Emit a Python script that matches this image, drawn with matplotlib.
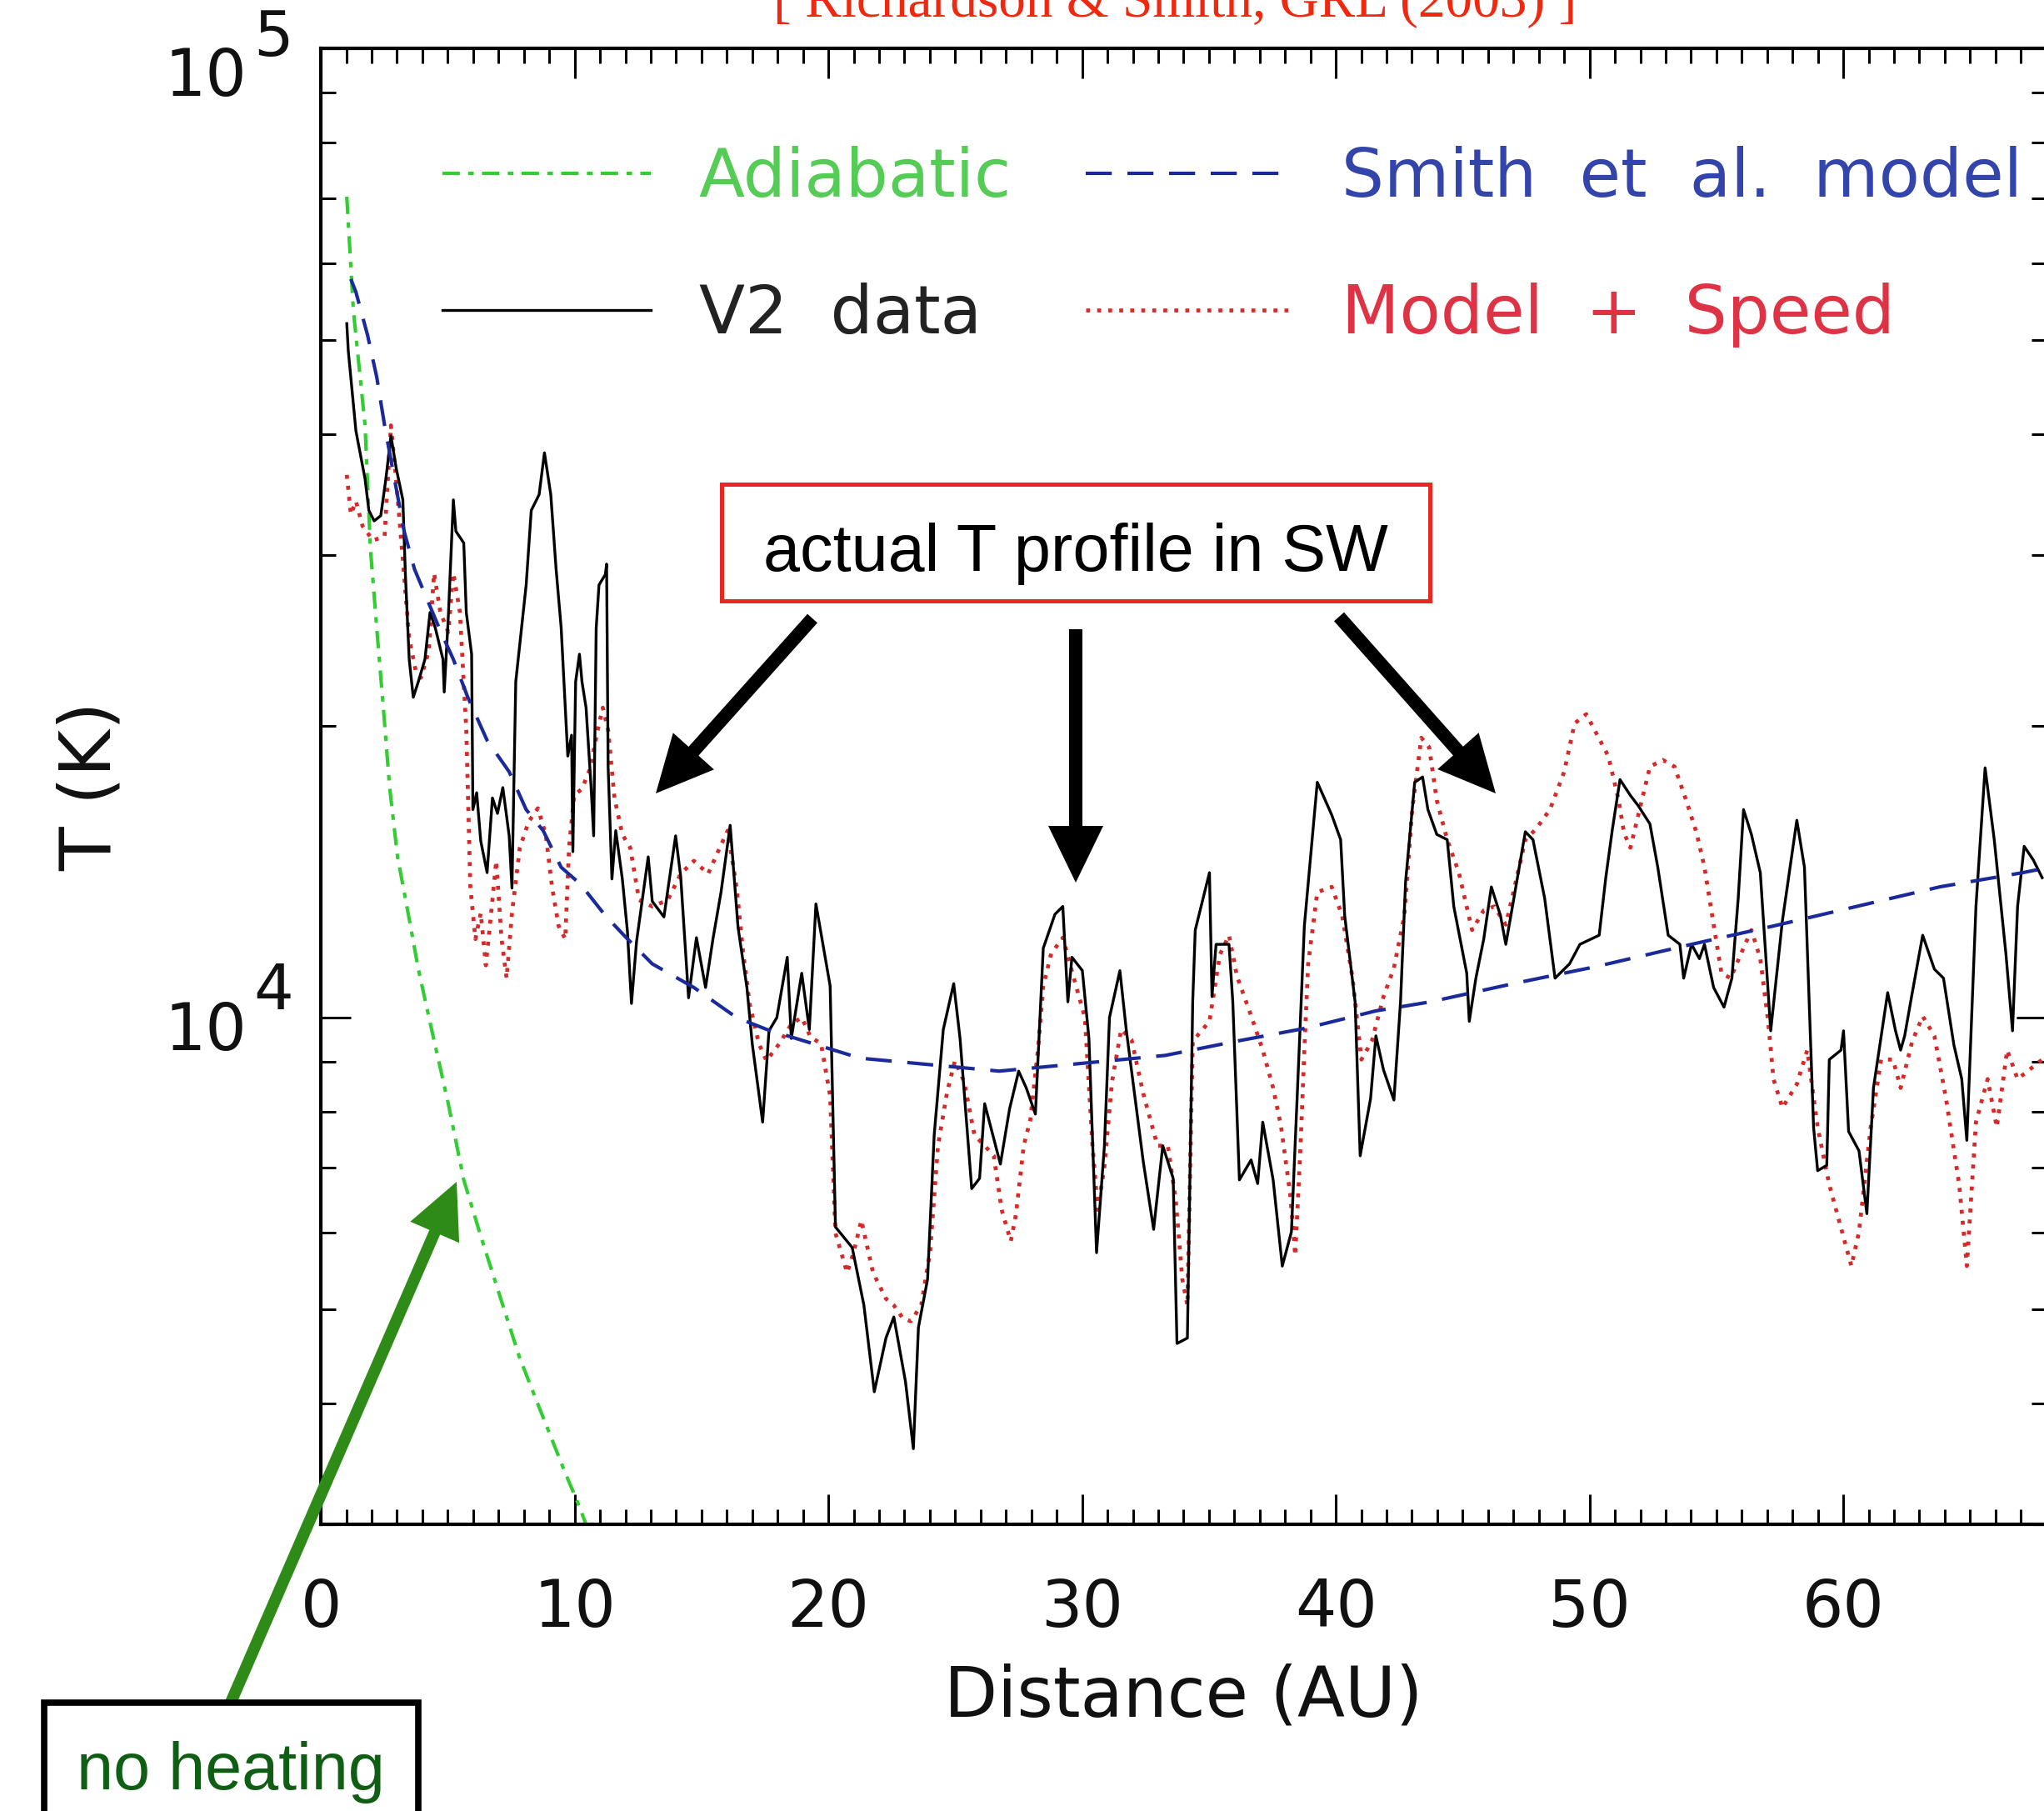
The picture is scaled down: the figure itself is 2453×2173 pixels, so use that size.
import matplotlib
matplotlib.use("Agg")
import matplotlib.pyplot as plt
from matplotlib.patches import Rectangle, FancyArrow
from matplotlib.ticker import MultipleLocator, LogLocator, NullFormatter

# distance (AU), temperature (K)
v2_data = [
    (1.02, 52000), (1.08, 48700), (1.38, 40300), (1.74, 35950), (1.89, 33360), (2.10, 32540),
    (2.36, 32950), (2.56, 35950), (2.76, 39830), (2.97, 36860), (3.23, 34210), (3.33, 28650),
    (3.48, 23420), (3.64, 21400), (3.84, 22210), (4.10, 23420), (4.30, 26180), (4.51, 25230),
    (4.81, 23420), (4.86, 21670), (5.02, 25860), (5.22, 34210), (5.32, 31750), (5.63, 30880),
    (5.73, 26180), (5.94, 23710), (5.99, 16390), (6.14, 17060), (6.30, 15210), (6.55, 14110),
    (6.76, 16850), (6.96, 16240), (7.17, 17270), (7.42, 15400), (7.53, 13600), (7.68, 22210),
    (8.09, 27950), (8.29, 33360), (8.60, 34640), (8.81, 38260), (9.06, 34640), (9.27, 29010),
    (9.47, 25230), (9.73, 18610), (9.88, 19560), (9.93, 14830), (10.04, 22210), (10.19, 23710),
    (10.29, 22210), (10.45, 20880), (10.65, 17270), (10.75, 15400), (10.85, 25230), (10.96, 27950),
    (11.21, 28650), (11.26, 29370), (11.32, 18150), (11.47, 13900), (11.62, 15590), (11.88, 13900),
    (12.08, 12280), (12.24, 10340), (12.44, 11980), (12.90, 14650), (13.06, 13180), (13.52, 12700),
    (13.98, 15400), (14.18, 13980), (14.49, 10480), (14.80, 12090), (15.16, 10740), (15.46, 12090),
    (15.77, 13470), (16.13, 15790), (16.44, 12390), (16.79, 10740), (17.00, 9400), (17.41, 7800),
    (17.66, 9690), (17.97, 10000), (18.38, 11540), (18.54, 9515), (18.95, 11110), (19.25, 9720),
    (19.51, 13100), (20.07, 10780), (20.28, 6080), (20.94, 5790), (21.40, 5050), (21.81, 4110),
    (22.27, 4670), (22.58, 4910), (23.04, 4210), (23.35, 3590), (23.55, 4790), (23.91, 5370),
    (24.17, 7560), (24.53, 9720), (24.94, 10840), (25.19, 9515), (25.65, 6660), (25.96, 6825),
    (26.16, 8150), (26.78, 7060), (27.14, 8045), (27.50, 8805), (27.80, 8460), (28.16, 7950),
    (28.47, 11790), (28.93, 12780), (29.24, 13020), (29.44, 10380), (29.60, 11540), (30.01, 11180),
    (30.27, 9515), (30.57, 5720), (30.88, 7375), (31.08, 10000), (31.49, 11180), (31.74, 9720),
    (32.41, 7105), (32.82, 6045), (33.18, 7375), (33.59, 6825), (33.74, 4610), (34.15, 4670),
    (34.36, 10380), (34.46, 12310), (35.02, 14110), (35.12, 10510), (35.28, 11900), (35.79, 11900),
    (35.94, 10380), (36.20, 6800), (36.66, 7130), (36.92, 6740), (37.12, 7800), (37.53, 6800),
    (37.89, 5540), (38.25, 6010), (38.50, 8560), (38.76, 12430), (39.27, 17490), (39.84, 16180),
    (40.19, 15260), (40.35, 12740), (40.76, 10380), (40.96, 7200), (41.37, 8250), (41.58, 9575),
    (41.88, 8830), (42.29, 8220), (42.55, 10380), (42.75, 13810), (43.11, 17490), (43.42, 17710),
    (43.63, 16390), (43.98, 15450), (44.39, 15260), (44.65, 13020), (45.16, 11110), (45.26, 9910),
    (45.52, 10980), (45.83, 12050), (46.13, 13640), (46.49, 12740), (46.70, 11900), (46.90, 12740),
    (47.47, 15550), (47.77, 15260), (48.23, 13280), (48.64, 10980), (49.21, 11360), (49.62, 11900),
    (50.38, 12160), (50.64, 13940), (50.90, 15640), (51.20, 17600), (51.61, 16950), (51.92, 16540),
    (52.38, 15840), (52.69, 14290), (53.10, 12160), (53.56, 11900), (53.71, 10980), (54.02, 11900),
    (54.33, 11500), (54.53, 11900), (54.89, 10740), (55.30, 10250), (55.61, 10980), (55.86, 13280),
    (56.07, 16390), (56.38, 15450), (56.73, 14110), (57.14, 9690), (57.60, 12580), (58.17, 15980),
    (58.47, 14290), (58.83, 7705), (58.99, 6950), (59.35, 7040), (59.45, 9050), (59.91, 9255),
    (60.01, 9690), (60.21, 7630), (60.62, 7285), (60.93, 6275), (61.19, 8460), (61.75, 10610),
    (62.06, 9690), (62.26, 9255), (62.42, 9575), (62.72, 10610), (63.13, 12160), (63.59, 11220),
    (63.95, 10980), (64.36, 9370), (64.67, 8640), (64.87, 7470), (65.23, 13020), (65.59, 18100),
    (65.95, 15260), (66.41, 11640), (66.67, 9690), (66.87, 13020), (67.13, 15020), (67.49, 14540),
    (67.84, 13940),
]

model_speed = [
    (1.02, 36300), (1.18, 33050), (1.38, 34100), (1.64, 32150), (2.05, 31070), (2.51, 31360),
    (2.76, 40830), (2.97, 35730), (3.23, 29650), (3.48, 24610), (3.74, 22770), (3.94, 22420),
    (4.25, 23860), (4.46, 28740), (4.71, 26180), (5.02, 24990), (5.22, 28740), (5.48, 26180),
    (5.73, 19800), (5.89, 13640), (6.09, 12050), (6.30, 12820), (6.50, 11320), (6.71, 12820),
    (6.91, 14510), (7.12, 12050), (7.32, 10980), (7.53, 12820), (7.84, 14970), (8.19, 15930),
    (8.55, 16440), (8.86, 15450), (9.11, 13640), (9.37, 12430), (9.63, 12050), (9.78, 14970),
    (9.98, 16950), (10.29, 17220), (10.60, 18040), (10.91, 19800), (11.11, 20880), (11.32, 19800),
    (11.57, 16850), (11.88, 15450), (12.19, 14970), (12.54, 13220), (13.06, 13020), (13.67, 13220),
    (14.18, 14070), (14.70, 14510), (15.26, 14070), (15.72, 14970), (16.03, 15590), (16.38, 13640),
    (16.64, 11680), (16.90, 10320), (17.26, 9400), (17.56, 9025), (18.07, 9400), (18.54, 9846),
    (18.95, 10000), (19.30, 9545), (19.71, 9400), (20.07, 8300), (20.28, 5990), (20.74, 5455),
    (20.99, 5716), (21.30, 6178), (21.76, 5455), (22.27, 5127), (22.58, 5048), (22.94, 4893),
    (23.25, 4860), (23.66, 5048), (24.01, 5733), (24.32, 7375), (24.68, 8378), (24.99, 9025),
    (25.35, 8587), (25.76, 7560), (26.16, 7375), (26.52, 7200), (26.83, 6333), (27.19, 5878),
    (27.39, 6255), (27.70, 7375), (27.96, 7846), (28.26, 9255), (28.47, 10780), (28.78, 11640),
    (29.24, 12090), (29.65, 11040), (30.11, 10000), (30.41, 7375), (30.62, 6333), (30.88, 7020),
    (31.18, 8587), (31.54, 9724), (31.95, 9485), (32.41, 8350), (32.97, 7375), (33.38, 7375),
    (33.69, 6490), (33.95, 5371), (34.15, 5048), (34.36, 9455), (35.02, 9910), (35.43, 11610),
    (35.79, 12160), (36.10, 11040), (36.67, 10030), (37.12, 9255), (37.53, 8460), (37.84, 7725),
    (38.20, 6580), (38.40, 5680), (38.61, 7375), (38.76, 9255), (38.91, 11360), (39.27, 13470),
    (39.84, 13640), (40.25, 12740), (40.66, 10980), (41.01, 9050), (41.42, 9455), (41.88, 10510),
    (42.29, 11250), (42.70, 12740), (43.01, 16390), (43.37, 19440), (43.68, 19000), (43.98, 16750),
    (44.39, 15260), (44.85, 14110), (45.37, 12310), (45.83, 12900), (46.24, 13020), (46.70, 12470),
    (47.00, 13470), (47.47, 15260), (47.88, 15640), (48.44, 16390), (49.00, 17930), (49.41, 20110),
    (49.87, 20560), (50.28, 19620), (50.74, 18610), (51.15, 16750), (51.36, 15500), (51.61, 14970),
    (51.92, 16180), (52.38, 18150), (52.89, 18440), (53.35, 18150), (53.81, 16750), (54.22, 15500),
    (54.53, 14290), (54.89, 12470), (55.20, 11110), (55.56, 10980), (55.97, 11640), (56.38, 12310),
    (56.73, 11500), (57.04, 9910), (57.25, 8640), (57.60, 8070), (58.17, 8535), (58.58, 9255),
    (58.99, 7705), (59.45, 6720), (60.01, 5933), (60.32, 5541), (60.62, 6010), (61.08, 7705),
    (61.49, 9050), (61.96, 9050), (62.26, 8460), (62.72, 9455), (63.13, 10030), (63.59, 9575),
    (64.05, 8250), (64.57, 6720), (64.87, 5541), (65.23, 7800), (65.69, 8640), (66.05, 7705),
    (66.46, 9255), (66.87, 8640), (67.33, 8831), (67.84, 9050),
]

smith_model = [
    (1.18, 57800), (1.38, 56040), (1.84, 50580), (2.20, 45800), (2.51, 40830), (3.28, 31750),
    (3.69, 29010), (4.66, 25230), (5.22, 23420), (5.79, 21400), (6.55, 19320), (7.42, 17930),
    (8.09, 16390), (8.76, 15590), (9.47, 14290), (10.24, 13720), (11.21, 12740), (11.98, 12130),
    (13.06, 11360), (14.70, 10740), (16.38, 10000), (17.56, 9724), (21.25, 9080), (24.53, 8915),
    (26.73, 8805), (28.93, 8915), (31.08, 9025), (33.28, 9140), (36.10, 9455), (38.86, 9755),
    (41.58, 10160), (43.73, 10380), (47.00, 10840), (50.28, 11290), (54.02, 11900), (57.25, 12430),
    (60.52, 13020), (63.80, 13640), (67.08, 14110), (67.84, 14240),
]

adiabatic = [
    (1.02, 70300), (1.28, 53650), (1.74, 40830), (1.95, 30500), (2.20, 25230), (2.46, 20880),
    (2.71, 17270), (3.02, 14650), (3.38, 13060), (3.84, 11220), (4.35, 9755), (5.02, 8150),
    (5.63, 6800), (6.30, 5950), (7.07, 5143), (7.83, 4458), (8.70, 3902), (9.58, 3415),
    (10.14, 3150), (10.45, 3000), (10.75, 2900),
]

x_ticks = [0, 10, 20, 30, 40, 50, 60]
# decade, exponent, vertical offsets (pt) of base and exponent
y_decades = [(1e4, "4", -12, 22), (1e5, "5", -25, 8)]
legend_labels = ["Adiabatic", "V2  data", "Smith  et  al.  model", "Model  +  Speed"]

plt.rcParams["font.family"] = ["DejaVu Sans"]
plt.rcParams["axes.linewidth"] = 3

fig = plt.figure(figsize=(24.53, 21.73), dpi=100)
ax = fig.add_axes([0.1570, 0.1583, 0.8441, 0.8150])
ax.set_yscale("log")
ax.set_xlim(0, 68)
ax.set_ylim(3000, 1e5)

au, t = zip(*adiabatic)
l_ad, = ax.plot(au, t, color="#33cc33", lw=3, linestyle=(0, (5, 2.4, 1.6, 2.4)), zorder=2)
au, t = zip(*model_speed)
l_ms, = ax.plot(au, t, color="#d42a2a", lw=3.4, linestyle=(0, (1, 1.8)), zorder=3)
au, t = zip(*v2_data)
l_v2, = ax.plot(au, t, color="black", lw=2.4, zorder=4)
au, t = zip(*smith_model)
l_sm, = ax.plot(au, t, color="#1a2a9a", lw=3, linestyle=(0, (7.5, 4.5)), zorder=5)

# axes / ticks in IDL style
ax.set_xticks(x_ticks)
ax.xaxis.set_minor_locator(MultipleLocator(1))
ax.yaxis.set_major_locator(LogLocator(base=10))
ax.yaxis.set_minor_locator(LogLocator(base=10, subs=range(2, 10)))
ax.yaxis.set_major_formatter(NullFormatter())
ax.yaxis.set_minor_formatter(NullFormatter())
ax.tick_params(which="both", direction="in", top=True, right=True, width=2.2, colors="black")
ax.tick_params(which="major", length=26, pad=45, labelsize=56, labelcolor="#111111")
ax.tick_params(which="minor", length=13)

for val, ex, dy_base, dy_exp in y_decades:
    ax.annotate("10", xy=(0, val), xycoords=("axes fraction", "data"), xytext=(-64, dy_base),
                textcoords="offset points", ha="right", va="center", fontsize=56, color="#111111")
    ax.annotate(ex, xy=(0, val), xycoords=("axes fraction", "data"), xytext=(-58, dy_exp),
                textcoords="offset points", ha="left", va="center", fontsize=54, color="#111111")

ax.set_xlabel("Distance (AU)", fontsize=60, color="#111111")
ax.xaxis.set_label_coords(0.5, -0.094)
ax.set_ylabel("T (K)", fontsize=62, color="#111111")
ax.yaxis.set_label_coords(-0.113, 0.5)

leg = ax.legend([l_ad, l_v2, l_sm, l_ms], legend_labels, ncol=2, frameon=False,
                loc="upper left", bbox_to_anchor=(0.0705, 0.934), borderpad=0, borderaxespad=0,
                fontsize=58, handlelength=3.1, handletextpad=0.72, columnspacing=1.1,
                labelspacing=1.07,
                labelcolor=["#55cc55", "#222222", "#3344aa", "#dd3344"])

# title fragment cut at the top
fig.text(0.5747, 0.9908, "[ Richardson & Smith, GRL (2003) ]", ha="center", va="baseline",
         color="#f0280f", fontsize=47, family=["Liberation Serif", "DejaVu Serif"])

inch = fig.dpi_scale_trans
sans = ["Liberation Sans", "DejaVu Sans"]

# red box with black arrows
fig.add_artist(Rectangle((8.66, 14.52), 8.50, 1.40, transform=inch, fill=False,
                         edgecolor="#e8281e", lw=3.6))
fig.text(12.91, 14.88, "actual T profile in SW", transform=inch, ha="center", va="baseline",
         fontsize=57, family=sans, color="black")
for x0, y0, dx, dy in [(9.75, 14.31, -1.88, -2.10), (12.91, 14.18, 0.0, -3.04),
                       (16.07, 14.33, 1.88, -2.12)]:
    fig.add_artist(FancyArrow(x0, y0, dx, dy, width=0.16, head_width=0.66, head_length=0.68,
                              length_includes_head=True, transform=inch, color="black", lw=0))

# no heating box with green arrow
fig.add_artist(FancyArrow(2.76, 1.28, 2.72, 6.27, width=0.14, head_width=0.64, head_length=0.66,
                          length_includes_head=True, transform=inch, color="#2e8b17", lw=0))
fig.add_artist(Rectangle((0.53, -0.5), 4.49, 1.80, transform=inch, facecolor="white",
                         edgecolor="black", lw=5.5))
fig.text(2.77, 0.26, "no heating", transform=inch, ha="center", va="baseline",
         fontsize=57, family=sans, color="#0f5e14")

fig.savefig("out.png", dpi=100)
